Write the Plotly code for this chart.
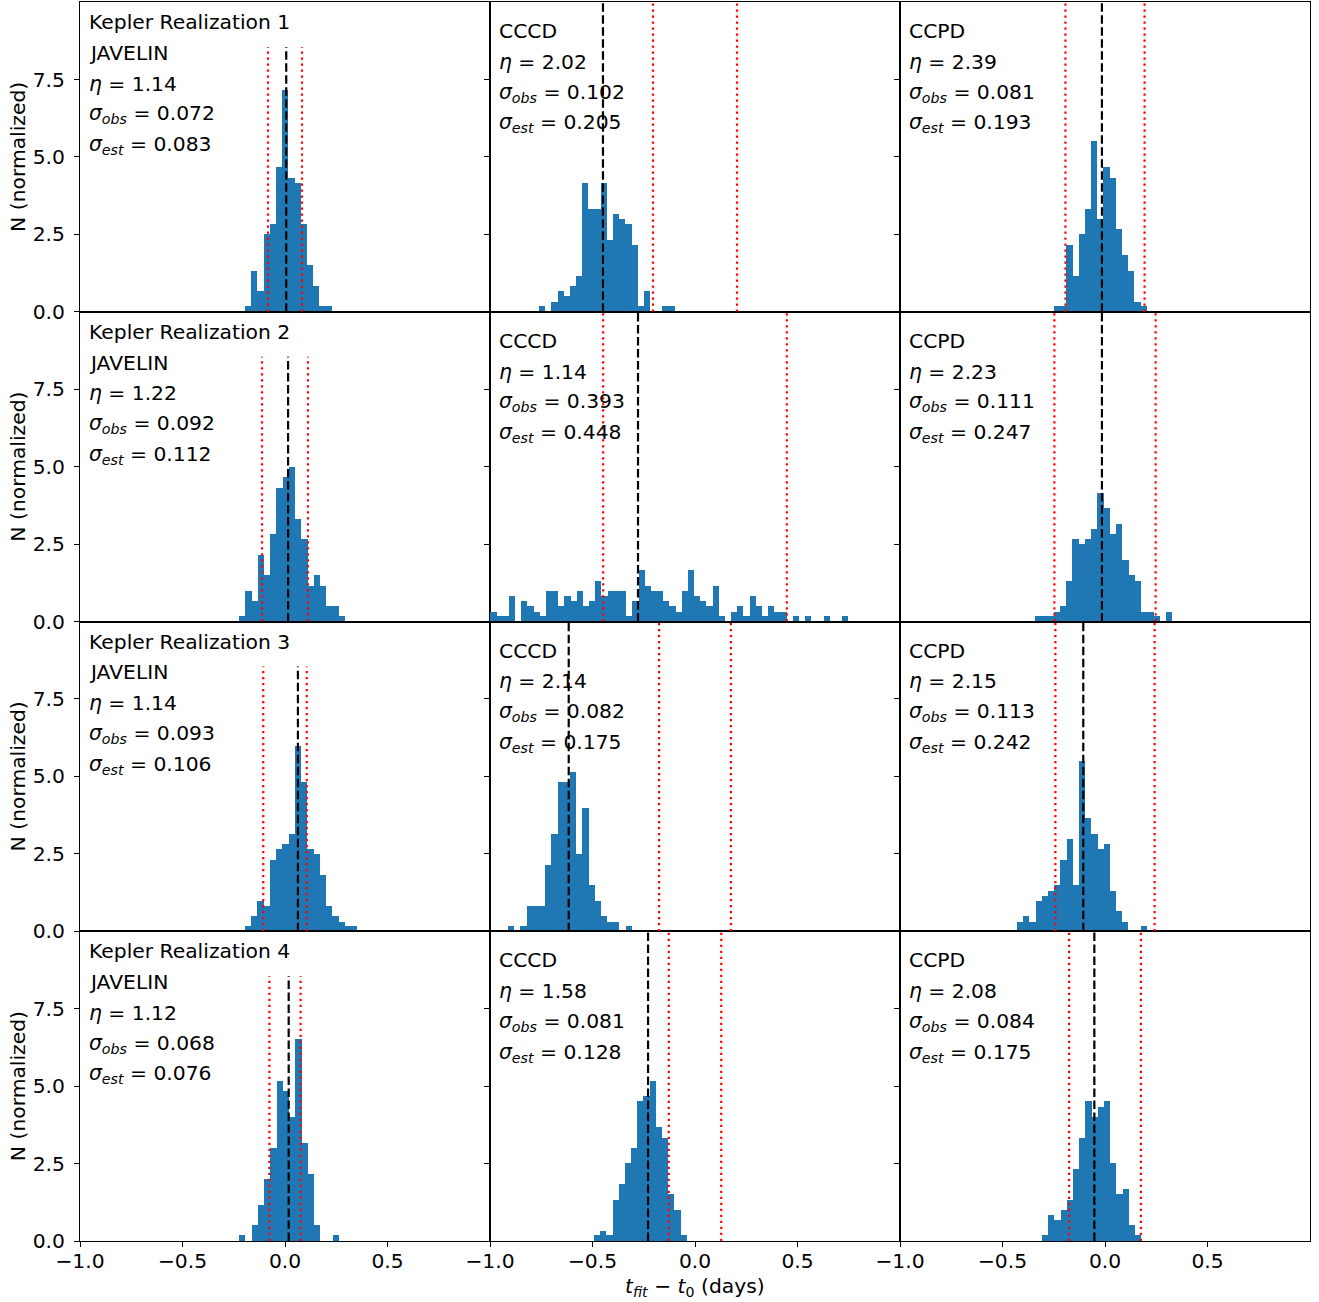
import plotly.graph_objects as go
from plotly.subplots import make_subplots

# ---------------- data ----------------
methods = ["JAVELIN", "CCCD", "CCPD"]
realizations = ["Kepler Realization 1", "Kepler Realization 2",
                "Kepler Realization 3", "Kepler Realization 4"]

eta = [[1.14, 2.02, 2.39],
       [1.22, 1.14, 2.23],
       [1.14, 2.14, 2.15],
       [1.12, 1.58, 2.08]]
sigma_obs = [[0.072, 0.102, 0.081],
             [0.092, 0.393, 0.111],
             [0.093, 0.082, 0.113],
             [0.068, 0.081, 0.084]]
sigma_est = [[0.083, 0.205, 0.193],
             [0.112, 0.448, 0.247],
             [0.106, 0.175, 0.242],
             [0.076, 0.128, 0.175]]
median_offset = [[0.006, -0.449, -0.015],
                 [0.015, -0.278, -0.015],
                 [0.063, -0.616, -0.106],
                 [0.018, -0.229, -0.052]]

bin_start = [[-0.195, -0.761, -0.249],
             [-0.224, -0.998, -0.341],
             [-0.195, -0.912, -0.429],
             [-0.224, -0.493, -0.307]]
bin_width = [[0.0302, 0.0301, 0.0302],
             [0.0304, 0.0301, 0.0304],
             [0.0304, 0.0302, 0.0302],
             [0.0305, 0.0302, 0.0302]]

h_r1_javelin = [0.17, 1.33, 0.67, 2.5, 2.83, 4.67, 7.17, 4.33, 4.17, 2.83, 1.5, 0.83, 0.17, 0.17]
h_r1_cccd = [0.17, 0, 0.33, 0.67, 0.5, 0.83, 1.17, 4.17, 3.33, 3.33, 4.17, 2.33, 3.17, 3.0,
             2.83, 2.17, 0.17, 0.67, 0, 0, 0.17, 0.17]
h_r1_ccpd = [0.17, 0.17, 2.17, 1.17, 2.5, 3.33, 5.5, 3.0, 4.67, 4.33, 2.67, 1.83, 1.33, 0.33, 0.17]

h_r2_javelin = [0.17, 1.0, 0.67, 2.17, 1.5, 2.83, 4.33, 4.67, 5.0, 3.33, 2.67, 1.17, 1.5, 1.17,
                0.5, 0.5, 0.17]
h_r2_cccd = [0.33, 0.17, 0.17, 0.83, 0, 0.67, 0.5, 0.33, 0.17, 1.0, 1.0, 0.5, 0.83, 0.67, 1.0,
             0.5, 0.67, 1.33, 0.83, 1.0, 1.0, 1.0, 0.17, 0.67, 1.67, 1.17, 1.0, 1.0, 0.67, 0.5,
             0.33, 1.0, 1.67, 0.83, 0.67, 0.5, 1.17, 0.17, 0, 0.33, 0.5, 0.17, 0.83, 0.5, 0.17,
             0.5, 0.33, 0.33, 0, 0.17, 0, 0.17, 0, 0, 0.17, 0, 0, 0.17]
h_r2_ccpd = [0.17, 0.17, 0.17, 0.33, 0.5, 1.33, 2.67, 2.5, 2.67, 3.0, 4.17, 3.67, 2.83, 3.17,
             2.0, 1.5, 1.33, 0.33, 0.33, 0.17, 0, 0.33]

h_r3_javelin = [0.17, 0.5, 1.0, 0.83, 2.33, 2.67, 2.83, 3.17, 6.0, 4.83, 2.67, 2.5, 1.83, 0.83,
                0.5, 0.33, 0.17, 0.17]
h_r3_cccd = [0.17, 0, 0.17, 0.83, 0.83, 0.83, 2.17, 3.17, 4.83, 4.83, 5.17, 2.5, 4.0, 1.5, 1.0,
             0.5, 0.33, 0.33, 0, 0.17]
h_r3_ccpd = [0.33, 0.5, 0.33, 1.0, 1.17, 1.33, 1.5, 2.33, 3.0, 1.5, 5.5, 3.67, 3.17, 2.67, 2.83,
             1.33, 0.67, 0.33, 0, 0, 0.17]

h_r4_javelin = [0.17, 0, 0.5, 1.17, 2.0, 3.0, 5.17, 4.83, 4.0, 6.5, 3.17, 2.17, 0.5, 0, 0, 0.17]
h_r4_cccd = [0.17, 0.33, 0.17, 1.33, 1.83, 2.5, 3.0, 4.5, 4.67, 5.17, 3.67, 3.33, 1.5, 1.0, 0.17]
h_r4_ccpd = [0.17, 0.83, 0.67, 1.0, 1.33, 2.33, 3.33, 4.5, 4.0, 4.33, 4.5, 2.5, 1.5, 1.67, 0.5, 0.17]

heights = [[h_r1_javelin, h_r1_cccd, h_r1_ccpd],
           [h_r2_javelin, h_r2_cccd, h_r2_ccpd],
           [h_r3_javelin, h_r3_cccd, h_r3_ccpd],
           [h_r4_javelin, h_r4_cccd, h_r4_ccpd]]

x_tickvals = [-1.0, -0.5, 0.0, 0.5]
x_ticktext = ["\u22121.0", "\u22120.5", "0.0", "0.5"]
y_tickvals = [0, 2.5, 5.0, 7.5]
y_ticktext = ["0.0", "2.5", "5.0", "7.5"]

# ---------------- styling ----------------
FONT = "DejaVu Sans"
FS = 20.3
BAR_COLOR = "#1f77b4"
X_RANGE = [-1.0, 1.0]
Y_RANGE = [0, 10.0]
COL1_LINE_TOP = 8.55

fig = make_subplots(rows=4, cols=3, horizontal_spacing=0, vertical_spacing=0)

shapes = []
annotations = []

for r in range(4):
    for c in range(3):
        idx = r * 3 + c + 1
        sfx = "" if idx == 1 else str(idx)
        h = heights[r][c]
        w = bin_width[r][c]
        s = bin_start[r][c]
        centers = [s + (i + 0.5) * w for i in range(len(h))]
        fig.add_trace(go.Bar(x=centers, y=h, width=[w] * len(h),
                             marker=dict(color=BAR_COLOR, line=dict(width=0)),
                             showlegend=False, hoverinfo="skip"),
                      row=r + 1, col=c + 1)

        ytop = COL1_LINE_TOP if c == 0 else Y_RANGE[1]
        # red dotted lines at +/- sigma_est
        for sx in (-sigma_est[r][c], sigma_est[r][c]):
            shapes.append(dict(type="line", xref="x" + sfx, yref="y" + sfx,
                               x0=sx, x1=sx, y0=0, y1=ytop,
                               line=dict(color="red", width=2.2, dash="2.2px,3.8px")))
        # black dashed median line
        m = median_offset[r][c]
        shapes.append(dict(type="line", xref="x" + sfx, yref="y" + sfx,
                           x0=m, x1=m, y0=0, y1=ytop,
                           line=dict(color="black", width=2.2, dash="8.5px,3.5px")))

        # text block
        if c == 0:
            lines = [realizations[r], methods[c]]
            first = 20
        else:
            lines = [methods[c]]
            first = 29
        lines += ["<i>\u03b7</i> = %.2f" % eta[r][c],
                  "<i>\u03c3</i><sub><i>obs</i></sub> = %.3f" % sigma_obs[r][c],
                  "<i>\u03c3</i><sub><i>est</i></sub> = %.3f" % sigma_est[r][c]]
        for k, txt in enumerate(lines):
            annotations.append(dict(xref="x%s domain" % sfx, yref="y%s domain" % sfx,
                                    x=0, y=1, xanchor="left", yanchor="middle",
                                    xshift=7, yshift=-(first + 30.8 * k),
                                    text=txt, showarrow=False,
                                    font=dict(family=FONT, size=FS, color="black")))
        if c == 0:
            annotations.append(dict(xref="paper", yref="y%s domain" % sfx,
                                    x=0, y=0.5, xanchor="center", yanchor="middle",
                                    xshift=-62, textangle=-90,
                                    text="N (normalized)", showarrow=False,
                                    font=dict(family=FONT, size=FS, color="black")))

        xa = dict(range=X_RANGE, showline=True, mirror=True, linecolor="black",
                  linewidth=1, showgrid=False, zeroline=False)
        if r == 3:
            xa.update(tickmode="array", tickvals=x_tickvals, ticktext=x_ticktext,
                      ticks="outside", ticklen=5, tickwidth=1, tickcolor="black",
                      ticklabelstandoff=-3,
                      tickfont=dict(family=FONT, size=FS, color="black"))
        else:
            xa.update(ticks="", showticklabels=False)
        ya = dict(range=Y_RANGE, showline=True, mirror=True, linecolor="black",
                  linewidth=1, showgrid=False, zeroline=False,
                  tickmode="array", tickvals=y_tickvals, ticktext=y_ticktext,
                  ticks="outside", ticklen=5, tickwidth=1, tickcolor="black",
                  showticklabels=(c == 0), ticklabelstandoff=5,
                  tickfont=dict(family=FONT, size=FS, color="black"))
        fig.update_xaxes(xa, row=r + 1, col=c + 1)
        fig.update_yaxes(ya, row=r + 1, col=c + 1)

annotations.append(dict(xref="x11 domain", yref="y11 domain", x=0.5, y=0,
                        xanchor="center", yanchor="middle", yshift=-46,
                        text="<i>t</i><sub><i>fit</i></sub> \u2212 <i>t</i><sub>0</sub> (days)",
                        showarrow=False,
                        font=dict(family=FONT, size=FS, color="black")))

fig.update_layout(width=1319, height=1302,
                  margin=dict(l=80, r=9, t=2, b=61),
                  paper_bgcolor="white", plot_bgcolor="white",
                  bargap=0, barmode="overlay",
                  shapes=shapes, annotations=annotations,
                  font=dict(family=FONT, size=FS, color="black"))

fig.write_html("out.html",
               config={"displayModeBar": False},
               post_script="document.body.style.margin='0';document.body.style.overflow='hidden';")
